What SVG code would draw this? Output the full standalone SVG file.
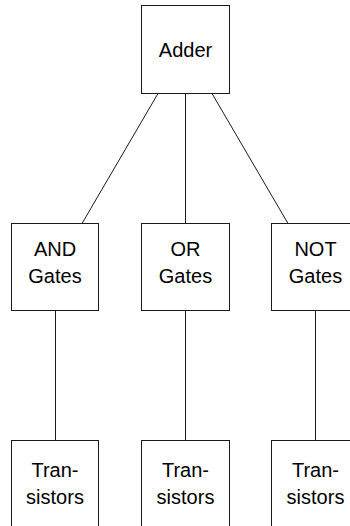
<svg xmlns="http://www.w3.org/2000/svg" width="350" height="526" viewBox="0 0 350 526">
  <style>
    .box { fill: #ffffff; stroke: #1a1a1a; stroke-width: 1; }
    .edge { stroke: #1a1a1a; stroke-width: 1; fill: none; }
    .lbl { font-family: "Liberation Sans", Arial, sans-serif; font-size: 20px; fill: #000000; text-anchor: middle; }
  </style>
  <rect width="350" height="526" fill="#ffffff"/>

  <g id="connectors">
    <line class="edge" x1="158" y1="93.5" x2="82" y2="223.5"/>
    <line class="edge" x1="185.5" y1="93.5" x2="185.5" y2="223.5"/>
    <line class="edge" x1="212" y1="93.5" x2="288" y2="223.5"/>
    <line class="edge" x1="55.5" y1="310.5" x2="55.5" y2="440.5"/>
    <line class="edge" x1="185.5" y1="310.5" x2="185.5" y2="440.5"/>
    <line class="edge" x1="315.5" y1="310.5" x2="315.5" y2="440.5"/>
  </g>

  <g id="adder">
    <rect class="box" x="141.5" y="5.5" width="88" height="88"/>
    <text class="lbl" x="185.5" y="56.5">Adder</text>
  </g>

  <g id="and-gates">
    <rect class="box" x="11.5" y="223.5" width="87" height="87"/>
    <text class="lbl" x="55" y="255.5">AND</text>
    <text class="lbl" x="55" y="283">Gates</text>
  </g>

  <g id="or-gates">
    <rect class="box" x="141.5" y="223.5" width="88" height="87"/>
    <text class="lbl" x="185.5" y="255.5">OR</text>
    <text class="lbl" x="185.5" y="283">Gates</text>
  </g>

  <g id="not-gates">
    <rect class="box" x="271.5" y="223.5" width="88" height="87"/>
    <text class="lbl" x="315.5" y="255.5">NOT</text>
    <text class="lbl" x="315.5" y="283">Gates</text>
  </g>

  <g id="and-transistors">
    <rect class="box" x="11.5" y="440.5" width="87" height="100"/>
    <text class="lbl" x="55" y="476.5">Tran-</text>
    <text class="lbl" x="55" y="504">sistors</text>
  </g>

  <g id="or-transistors">
    <rect class="box" x="141.5" y="440.5" width="88" height="100"/>
    <text class="lbl" x="185.5" y="476.5">Tran-</text>
    <text class="lbl" x="185.5" y="504">sistors</text>
  </g>

  <g id="not-transistors">
    <rect class="box" x="271.5" y="440.5" width="88" height="100"/>
    <text class="lbl" x="315.5" y="476.5">Tran-</text>
    <text class="lbl" x="315.5" y="504">sistors</text>
  </g>
</svg>
